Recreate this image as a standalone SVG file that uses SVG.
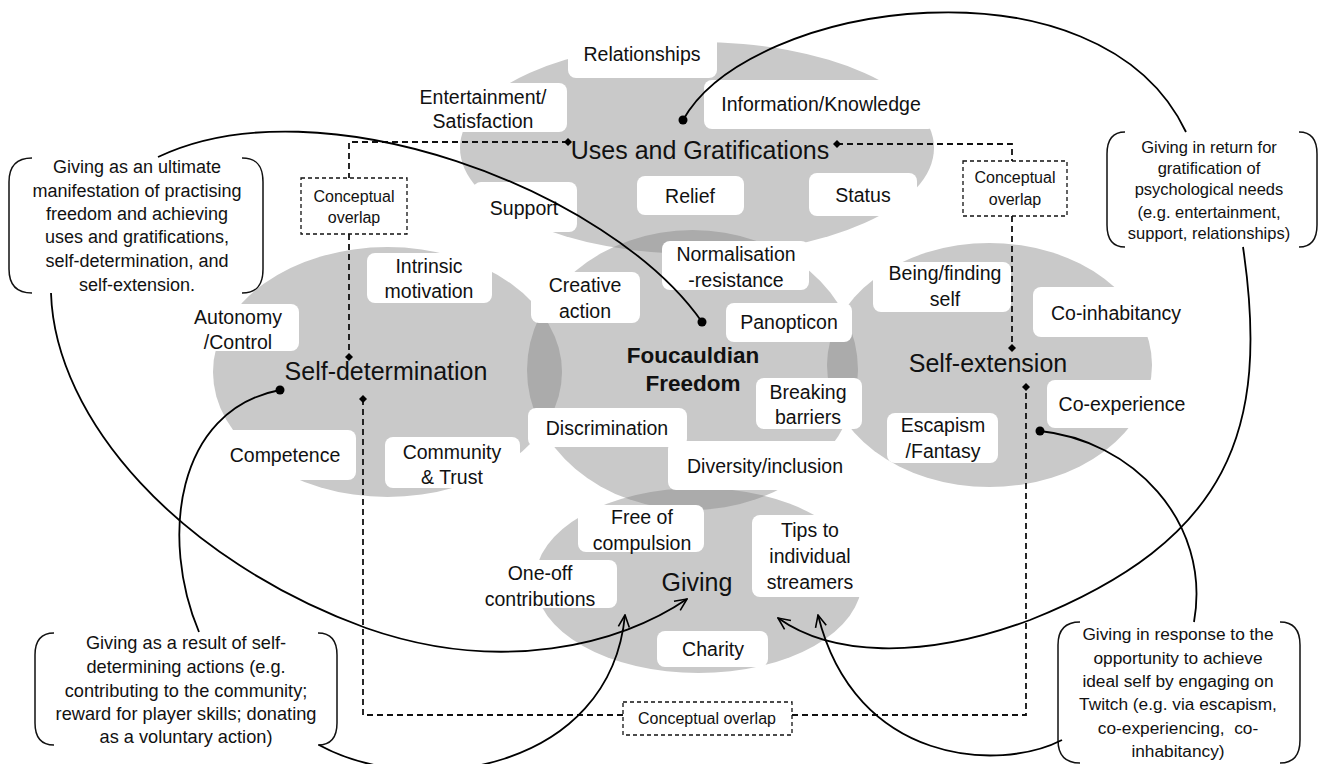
<svg xmlns="http://www.w3.org/2000/svg" width="1322" height="764" viewBox="0 0 1322 764">
<style>
.e{fill:#c9c9c9}
.ov{fill:#ababab}
.box{fill:#fff}
text{font-family:"Liberation Sans",Arial,sans-serif;fill:#111;text-anchor:middle}
.lbl{font-size:19.5px}
.big{font-size:25px}
.bold{font-size:22.5px;font-weight:bold}
.co{font-size:16px}
.con{fill:none;stroke:#000;stroke-width:1.8}
.dash{fill:none;stroke:#111;stroke-width:1.8;stroke-dasharray:6 4}
.dbox{fill:#fff;stroke:#111;stroke-width:1.3;stroke-dasharray:4 3}
.br{fill:none;stroke:#111;stroke-width:1.5}
</style>
<defs>
<clipPath id="cUG"><ellipse cx="697" cy="148" rx="237" ry="106"/></clipPath>
<clipPath id="cSD"><ellipse cx="387.5" cy="372" rx="174.5" ry="125"/></clipPath>
<clipPath id="cSE"><ellipse cx="989.5" cy="365" rx="162.5" ry="122"/></clipPath>
<clipPath id="cGV"><ellipse cx="698.5" cy="580.5" rx="163.5" ry="92.5"/></clipPath>
<marker id="dot" viewBox="-5 -5 10 10" markerWidth="10" markerHeight="10" markerUnits="userSpaceOnUse"><circle r="4.5" fill="#000"/></marker>
<marker id="dia" viewBox="-5 -5 10 10" markerWidth="10" markerHeight="10" markerUnits="userSpaceOnUse"><path d="M-4 0L0-4L4 0L0 4Z" fill="#000"/></marker>
<marker id="arr" viewBox="0 0 14 14" refX="13" refY="7" markerWidth="14" markerHeight="14" markerUnits="userSpaceOnUse" orient="auto"><path d="M1 1.5L13 7L1 12.5" fill="none" stroke="#000" stroke-width="1.6"/></marker>
</defs>
<rect width="1322" height="764" fill="#fff"/>

<g id="uses-gratifications"><ellipse class="e" cx="697" cy="148" rx="237" ry="106"/></g>
<g id="self-determination"><ellipse class="e" cx="387.5" cy="372" rx="174.5" ry="125"/></g>
<g id="self-extension"><ellipse class="e" cx="989.5" cy="365" rx="162.5" ry="122"/></g>
<g id="giving"><ellipse class="e" cx="698.5" cy="580.5" rx="163.5" ry="92.5"/></g>
<g id="foucauldian-freedom"><ellipse class="e" cx="692.5" cy="370" rx="165.5" ry="140"/></g>
<g id="overlaps">
<ellipse class="ov" cx="692.5" cy="370" rx="165.5" ry="140" clip-path="url(#cUG)"/>
<ellipse class="ov" cx="692.5" cy="370" rx="165.5" ry="140" clip-path="url(#cSD)"/>
<ellipse class="ov" cx="692.5" cy="370" rx="165.5" ry="140" clip-path="url(#cSE)"/>
<ellipse class="ov" cx="692.5" cy="370" rx="165.5" ry="140" clip-path="url(#cGV)"/>
</g>

<g id="relationships"><rect class="box" x="568" y="30" width="149" height="48" rx="8"/><text class="lbl" x="642" y="60.5">Relationships</text></g>
<g id="entertainment"><rect class="box" x="400" y="83" width="167" height="49" rx="8"/><text class="lbl" x="483" y="103.5">Entertainment/</text><text class="lbl" x="483" y="127.5">Satisfaction</text></g>
<g id="information"><rect class="box" x="704" y="80" width="232" height="49" rx="8"/><text class="lbl" x="821" y="111">Information/Knowledge</text></g>
<g id="support"><rect class="box" x="473" y="182" width="104" height="50" rx="8"/><text class="lbl" x="524" y="214.5">Support</text></g>
<g id="relief"><rect class="box" x="637" y="176" width="107" height="39" rx="8"/><text class="lbl" x="690" y="202.5">Relief</text></g>
<g id="status"><rect class="box" x="809" y="173" width="108" height="43" rx="8"/><text class="lbl" x="863" y="202">Status</text></g>
<g id="normalisation"><rect class="box" x="662" y="241" width="147" height="49" rx="8"/><text class="lbl" x="736" y="260.5">Normalisation</text><text class="lbl" x="736" y="286.5">-resistance</text></g>
<g id="intrinsic"><rect class="box" x="367" y="253" width="125" height="50" rx="8"/><text class="lbl" x="429" y="272.5">Intrinsic</text><text class="lbl" x="429" y="297.5">motivation</text></g>
<g id="creative"><rect class="box" x="531" y="272" width="109" height="51" rx="8"/><text class="lbl" x="585" y="291.5">Creative</text><text class="lbl" x="585" y="317.5">action</text></g>
<g id="autonomy"><rect class="box" x="180" y="304" width="119" height="47" rx="8"/><text class="lbl" x="238" y="323.5">Autonomy</text><text class="lbl" x="238" y="348.5">/Control</text></g>
<g id="panopticon"><rect class="box" x="726" y="303" width="126" height="39" rx="8"/><text class="lbl" x="789" y="328.5">Panopticon</text></g>
<g id="being"><rect class="box" x="873" y="262" width="138" height="50" rx="8"/><text class="lbl" x="945" y="279.5">Being/finding</text><text class="lbl" x="945" y="305.5">self</text></g>
<g id="coinhabitancy"><rect class="box" x="1033" y="287" width="162" height="50" rx="8"/><text class="lbl" x="1116" y="319.5">Co-inhabitancy</text></g>
<g id="breaking"><rect class="box" x="756" y="378" width="106" height="51" rx="8"/><text class="lbl" x="808" y="398.5">Breaking</text><text class="lbl" x="808" y="423.5">barriers</text></g>
<g id="discrimination"><rect class="box" x="528" y="408" width="159" height="39" rx="8"/><text class="lbl" x="607" y="434.5">Discrimination</text></g>
<g id="diversity"><rect class="box" x="668" y="441" width="190" height="49" rx="8"/><text class="lbl" x="765" y="472.5">Diversity/inclusion</text></g>
<g id="competence"><rect class="box" x="215" y="430" width="141" height="50" rx="8"/><text class="lbl" x="285" y="461.5">Competence</text></g>
<g id="community"><rect class="box" x="385" y="437" width="135" height="51" rx="8"/><text class="lbl" x="452" y="458.5">Community</text><text class="lbl" x="452" y="483.5">&amp; Trust</text></g>
<g id="escapism"><rect class="box" x="887" y="413" width="111" height="50" rx="8"/><text class="lbl" x="943" y="431.5">Escapism</text><text class="lbl" x="943" y="457.5">/Fantasy</text></g>
<g id="coexperience"><rect class="box" x="1047" y="380" width="152" height="48" rx="8"/><text class="lbl" x="1122" y="410.5">Co-experience</text></g>
<g id="free"><rect class="box" x="578" y="505" width="126" height="47" rx="8"/><text class="lbl" x="642" y="523.5">Free of</text><text class="lbl" x="642" y="549.5">compulsion</text></g>
<g id="oneoff"><rect class="box" x="478" y="560" width="139" height="48" rx="8"/><text class="lbl" x="540" y="579.5">One-off</text><text class="lbl" x="540" y="605.5">contributions</text></g>
<g id="tips"><rect class="box" x="752" y="515" width="118" height="82" rx="8"/><text class="lbl" x="810" y="536.5">Tips to</text><text class="lbl" x="810" y="562.5">individual</text><text class="lbl" x="810" y="588.5">streamers</text></g>
<g id="charity"><rect class="box" x="657" y="631" width="111" height="36" rx="8"/><text class="lbl" x="713" y="655.5">Charity</text></g>

<g id="titles">
<text class="big" x="700" y="158.5">Uses and Gratifications</text>
<text class="big" x="386" y="379.5">Self-determination</text>
<text class="big" x="988" y="371.5">Self-extension</text>
<text class="big" x="697" y="590.5">Giving</text>
<text class="bold" x="693" y="363">Foucauldian</text>
<text class="bold" x="693" y="391">Freedom</text>
</g>

<g id="overlap-left"><rect class="dbox" x="301" y="178" width="106" height="56"/><text class="co" x="354" y="201.5">Conceptual</text><text class="co" x="354" y="222.5">overlap</text></g>
<g id="overlap-right"><rect class="dbox" x="963" y="161" width="104" height="55"/><text class="co" x="1015" y="182.5">Conceptual</text><text class="co" x="1015" y="204.5">overlap</text></g>
<g id="overlap-bottom"><rect class="dbox" x="623" y="702" width="169" height="33"/><text class="co" x="707" y="724">Conceptual overlap</text></g>

<g id="callout-freedom">
<path class="br" d="M32 158C17 158 9 166 9 182L9 269C9 285 17 293 32 293"/>
<path class="br" d="M242 158C257 158 263 166 263 182L263 269C263 285 257 293 242 293"/>
<g font-size="18">
<text x="137" y="173">Giving as an ultimate</text>
<text x="137" y="197">manifestation of practising</text>
<text x="137" y="220">freedom and achieving</text>
<text x="137" y="243">uses and gratifications,</text>
<text x="137" y="267">self-determination, and</text>
<text x="137" y="291">self-extension.</text>
</g></g>
<g id="callout-gratification">
<path class="br" d="M1125 132C1113 132 1107 140 1107 154L1107 225C1107 239 1113 247 1125 247"/>
<path class="br" d="M1299 132C1311 132 1317 140 1317 154L1317 225C1317 239 1311 247 1299 247"/>
<g font-size="16.5">
<text x="1209" y="153">Giving in return for</text>
<text x="1209" y="174">gratification of</text>
<text x="1209" y="195">psychological needs</text>
<text x="1209" y="218">(e.g. entertainment,</text>
<text x="1209" y="239">support, relationships)</text>
</g></g>
<g id="callout-determination">
<path class="br" d="M54 633C41 633 35 641 35 655L35 723C35 737 41 745 54 745"/>
<path class="br" d="M318 633C331 633 337 641 337 655L337 723C337 737 331 745 318 745"/>
<g font-size="18.2">
<text x="186" y="649">Giving as a result of self-</text>
<text x="186" y="673">determining actions (e.g.</text>
<text x="186" y="697">contributing to the community;</text>
<text x="186" y="720">reward for player skills; donating</text>
<text x="186" y="743">as a voluntary action)</text>
</g></g>
<g id="callout-extension">
<path class="br" d="M1080 622C1065 622 1058 630 1058 645L1058 740C1058 755 1065 763 1080 763"/>
<path class="br" d="M1280 622C1294 622 1300 630 1300 645L1300 740C1300 755 1294 763 1280 763"/>
<g font-size="17.3">
<text x="1178" y="640">Giving in response to the</text>
<text x="1178" y="664">opportunity to achieve</text>
<text x="1178" y="687">ideal self by engaging on</text>
<text x="1178" y="710">Twitch (e.g. via escapism,</text>
<text x="1178" y="734">co-experiencing,&#160; co-</text>
<text x="1178" y="757">inhabitancy)</text>
</g></g>

<g id="connectors">
<path class="dash" d="M568 142H349V178" marker-start="url(#dia)"/>
<path class="dash" d="M349 234V357" marker-end="url(#dia)"/>
<path class="dash" d="M837 144H1012V161" marker-start="url(#dia)"/>
<path class="dash" d="M1012 216V348" marker-end="url(#dia)"/>
<path class="dash" d="M363 399V715H623" marker-start="url(#dia)"/>
<path class="dash" d="M792 715H1026V387" marker-end="url(#dia)"/>
<path class="con" d="M702 322C610 190 320 80 158 157" marker-start="url(#dot)"/>
<path class="con" d="M51 293C55 420 180 560 366 628C500 675 620 645 687 599" marker-end="url(#arr)"/>
<path class="con" d="M280 390C175 410 160 540 199 632" marker-start="url(#dot)"/>
<path class="con" d="M319 745C420 800 610 770 625 615" marker-end="url(#arr)"/>
<path class="con" d="M683 120C750 0 1100 -50 1186 132" marker-start="url(#dot)"/>
<path class="con" d="M1243 247C1270 430 1230 540 1030 620C920 661 830 655 778 618" marker-end="url(#arr)"/>
<path class="con" d="M1040 431C1130 440 1212 520 1194 622" marker-start="url(#dot)"/>
<path class="con" d="M1062 740C1000 772 855 765 818 615" marker-end="url(#arr)"/>
</g>
</svg>
